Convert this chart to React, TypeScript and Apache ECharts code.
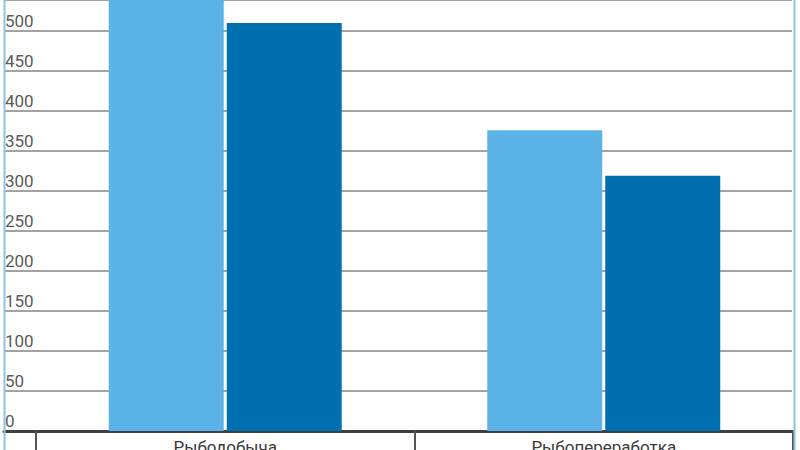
import React, { useEffect, useRef } from "react";
import * as echarts from "echarts";

const categories = ["Рыбодобыча", "Рыбопереработка"];
const seriesLight = [580, 376];
const seriesDark = [510, 319];
const yMin = 0;
const yMax = 538.75;
const yStep = 50;

export default function App() {
  const ref = useRef<HTMLDivElement>(null);
  useEffect(() => {
    if (!ref.current) return;
    const chart = echarts.init(ref.current, null, { renderer: "svg" });
    const font = "Roboto, 'Noto Sans', sans-serif";
    chart.setOption({
      animation: false,
      backgroundColor: "#ffffff",
      grid: [
        { left: 4, width: 788, top: 0, height: 431, containLabel: false, outerBoundsMode: "none" },
        { left: 36, width: 757, top: 0, height: 431, containLabel: false, outerBoundsMode: "none" },
      ],
      xAxis: [
        {
          gridIndex: 0,
          type: "category",
          data: categories,
          axisLine: { show: true, lineStyle: { color: "#3f3f3f", width: 3 } },
          axisTick: { show: false },
          axisLabel: { show: false },
        },
        {
          gridIndex: 1,
          type: "category",
          data: categories,
          axisLine: { show: true, lineStyle: { color: "#3f3f3f", width: 3 } },
          axisTick: { show: true, length: 22, lineStyle: { color: "#555555", width: 2 } },
          axisLabel: {
            show: true,
            margin: 7,
            fontSize: 17,
            color: "#3a3a3a",
            fontFamily: font,
          },
        },
      ],
      yAxis: [
        {
          gridIndex: 0,
          type: "value",
          min: yMin,
          max: yMax,
          interval: yStep,
          axisLine: { show: false },
          axisTick: { show: false },
          splitLine: { show: true, lineStyle: { color: "#a3a3a3", width: 2 } },
          axisLabel: {
            inside: true,
            margin: 1,
            fontSize: 17,
            color: "#5a5a5a",
            fontFamily: font,
            verticalAlign: "bottom",
            padding: [0, 0, 2, 0],
            showMaxLabel: false,
          },
        },
        {
          gridIndex: 1,
          type: "value",
          min: yMin,
          max: yMax,
          interval: yStep,
          show: false,
        },
      ],
      series: [
        {
          type: "bar",
          xAxisIndex: 1,
          yAxisIndex: 1,
          data: seriesLight,
          barWidth: 115,
          barGap: "2.6%",
          clip: false,
          itemStyle: { color: "#5bb2e6" },
          z: 3,
        },
        {
          type: "bar",
          xAxisIndex: 1,
          yAxisIndex: 1,
          data: seriesDark,
          barWidth: 115,
          barGap: "2.6%",
          clip: false,
          itemStyle: { color: "#0070b0" },
          z: 3,
        },
      ],
      graphic: [
        {
          type: "line",
          shape: { x1: 4.5, y1: 0, x2: 4.5, y2: 450 },
          style: { stroke: "#8fc2e2", lineWidth: 2 },
          z: 10,
        },
        {
          type: "line",
          shape: { x1: 794.5, y1: 0, x2: 794.5, y2: 450 },
          style: { stroke: "#8fc2e2", lineWidth: 2 },
          z: 10,
        },
      ],
    });
    return () => chart.dispose();
  }, []);
  return <div ref={ref} style={{ width: 800, height: 450, position: "fixed", left: 0, top: 0 }} />;
}
